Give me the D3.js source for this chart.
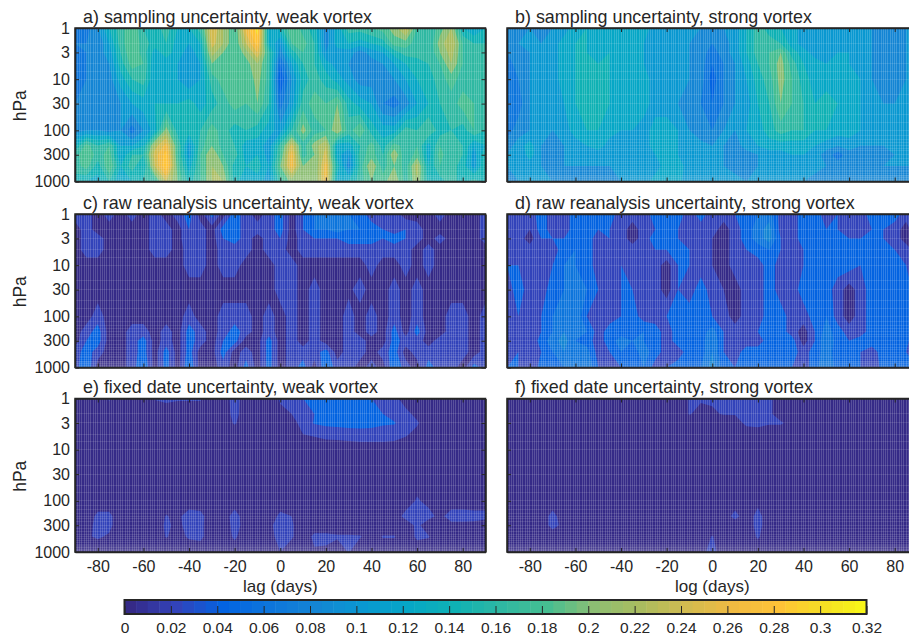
<!DOCTYPE html>
<html>
<head>
<meta charset="utf-8">
<script src="https://cdn.jsdelivr.net/npm/d3@7"></script>
<style>
  html, body { margin: 0; padding: 0; background: #fff; overflow: hidden; }
  svg { display: block; }
  text { font-family: "Liberation Sans", Arial, sans-serif; fill: #262626; }
</style>
</head>
<body>
<script>
// lag (days) of each column, pressure (hPa) of each row
const lags = [-90,-85,-80,-75,-70,-65,-60,-55,-50,-45,-40,-35,-30,-25,-20,-15,-10,-5,0,5,10,15,20,25,30,35,40,45,50,55,60,65,70,75,80,85,90];
const levels = [1,2,3,5,10,30,100,200,300,500,1000];

// values in hundredths
const samplingWeak = [
  [7,7,10,14,17,20,16,15,17,14,14,17,26,22,18,27,31,13,15,20,17,15,9,13,17,17,18,19,21,25,18,16,19,22,14,12,14],
  [8,8,8,12,17,20,17,15,16,13,12,14,25,22,18,24,29,14,10,18,19,16,9,13,14,13,14,15,19,19,17,16,21,24,18,16,16],
  [7,8,9,11,16,20,17,13,15,13,11,13,23,20,18,21,26,17,9,15,18,16,10,11,11,9,11,12,15,17,17,16,20,23,18,16,16],
  [7,8,9,10,15,19,18,12,13,12,10,12,20,19,18,19,22,17,6,12,16,16,13,11,10,8,9,10,12,14,15,16,18,22,18,17,17],
  [7,8,9,9,13,16,17,12,12,12,10,12,17,19,19,18,21,17,4,10,15,17,15,13,11,9,9,9,10,12,14,15,17,19,17,17,17],
  [8,8,8,9,10,12,13,14,14,14,15,13,15,17,19,18,20,16,7,11,17,19,18,20,15,13,12,8,7,9,12,14,16,17,19,18,17],
  [9,10,10,9,10,7,10,13,21,15,15,16,19,17,15,16,15,13,11,16,21,17,18,22,17,20,15,13,13,17,16,18,15,16,15,18,16],
  [14,19,16,18,12,12,14,23,27,18,11,17,20,17,16,13,13,11,17,25,17,21,24,13,13,16,19,15,19,17,18,13,18,17,16,12,14],
  [17,20,17,19,12,16,16,25,29,18,11,18,22,18,17,13,14,11,18,27,17,20,25,13,10,17,19,16,22,16,19,13,19,16,16,11,16],
  [17,19,15,20,14,17,14,24,30,19,13,18,22,20,15,14,15,12,20,27,20,20,27,15,9,17,22,17,20,17,23,14,18,17,15,11,16],
  [15,14,13,16,12,14,16,17,24,20,15,18,22,22,15,12,13,11,17,21,20,20,27,13,14,17,20,19,22,17,22,15,15,17,15,17,15]
];
const samplingStrong = [
  [9,9,10,9,10,11,13,14,13,14,13,13,13,11,10,10,10,10,9,10,11,14,17,15,14,13,11,10,10,11,11,11,10,9,9,10,10],
  [9,10,10,10,11,13,14,14,13,14,13,13,12,11,10,10,10,9,8,9,11,14,17,17,16,13,11,10,11,11,11,11,10,8,8,10,10],
  [8,9,10,10,11,13,14,14,13,14,13,14,12,11,10,10,10,9,7,9,11,14,17,18,20,15,13,11,11,12,12,11,10,8,8,10,10],
  [7,9,10,10,11,13,14,14,14,14,13,14,12,11,10,10,10,9,6,8,10,13,16,18,21,17,14,13,12,12,12,11,10,8,9,10,10],
  [6,8,10,10,11,13,14,14,14,14,13,14,13,11,10,10,10,9,5,8,10,12,15,17,21,18,15,13,13,12,13,12,10,9,9,10,10],
  [7,7,10,10,11,12,14,14,14,14,13,14,13,11,10,10,9,8,6,8,10,11,14,16,20,18,16,14,15,14,13,12,11,10,10,10,10],
  [7,9,10,10,10,11,13,14,14,13,12,12,11,13,14,12,10,8,8,10,10,12,13,15,17,16,16,14,14,13,13,12,11,10,10,10,10],
  [9,11,13,10,9,10,11,12,13,11,11,11,11,13,13,12,10,11,10,10,9,11,12,13,13,13,13,12,11,10,11,10,10,10,10,10,10],
  [10,10,13,10,9,10,10,11,11,11,10,10,10,12,13,12,10,10,10,10,9,9,10,11,11,12,12,11,9,7,9,9,8,9,10,10,10],
  [10,10,11,10,9,10,10,10,10,10,10,10,10,11,13,13,11,10,10,10,9,9,10,11,10,11,11,11,10,9,10,10,9,10,10,10,10],
  [9,10,10,10,10,9,9,9,8,9,10,10,11,13,13,13,10,10,10,10,11,10,10,10,11,10,10,9,9,9,9,9,9,9,9,9,9]
];
const rawWeak = [
  [3,3,1,3,1,3,1,3,1,3,5,1,5,1,5,3,1,3,5,1,4,6,7,7,6,5,3,3,3,1,1,1,3,1,1,1,3],
  [1,3,1,1,1,1,1,3,3,1,4,3,1,5,5,3,3,3,5,1,4,6,6,7,6,6,5,4,3,4,3,1,1,1,1,1,3],
  [1,3,3,1,1,1,1,3,3,1,4,3,1,4,5,3,1,3,4,1,3,4,4,4,5,5,5,4,5,4,3,1,3,1,1,1,3],
  [1,3,3,1,1,1,1,3,3,1,3,3,1,3,3,3,1,3,3,1,3,3,3,3,3,3,3,3,3,3,1,3,1,1,1,1,1],
  [1,1,1,1,1,1,1,1,1,1,3,3,1,3,3,1,1,1,3,3,1,1,1,1,1,1,3,1,1,3,1,3,1,1,1,1,1],
  [1,1,1,1,1,1,1,1,1,1,1,1,1,1,1,1,1,1,3,3,1,3,1,1,1.5,3,1,1,3,1,3,1,1,1,1,1,1],
  [1,1,3,1,1,1,1,1,1,1,3,1,1,3,3,3,1,3,1,3,1,3,1,1,3,1,3,1,3,1,3,1,1,3,3,1,3],
  [1,3,5,1,1,3,3,1,3,1,5,3,1,3,5,3,1,3,1,3,1,3,1,1,3,1,3,1,5,1,5,1,1,3,3,1,3],
  [1,4,5,1,1,3,5,1,3,1,5,3,1,4,5,1,1,5,1,3,1,3,1,1,3,3,1,1,5,3,3,1,3,3,3,1,3],
  [3,5,3,1,1,3,5,1,5,1,5,1,1,5,1,3,1,5,1,3,3,3,5,1,3,3,1,3,5,1,3,3,3,3,3,1,3],
  [3,6,1,1,1,3,6,1,5,1,6,1,1,3,1,5,1,5,1,3,5,1,6,3,3,1,3,1,6,3,1,5,3,3,1,5,3]
];
const rawStrong = [
  [3,3,3,5,3,3,5,6,5,5,3,3,3,5,5,5,3,5,3,3,4,5,6,7,3,3,5,5,3,4,3,3,5,5,5,3,5],
  [3,3,2,5,3,3,5,5,4,4,3,1,3,4,4,4,3,3,3,1,3,5,7,9,3,3,5,5,4,4,3,3,4,4,3,1,4],
  [3,3,1,4,4,4,5,5,3,4,3,1,3,5,4,4,3,3,2,1,3,5,7,9,4,3,5,5,4,4,4,4,4,4,3,1,3],
  [3,3,3,3,3,5,6,5,3,3,3,3,3,4,4,4,4,3,2,1,3,4,5,6,4,3,4,5,5,5,5,4,4,4,4,3,1],
  [4,4,3,3,4,6,6,5,3,3,4,3,3,3,1,4,4,3,2,1,3,3,3,5,3,3,4,5,5,5,5,4,4,4,5,4,2],
  [3,5,3,3,5,6,8,6,4,3,4,4,3,3,1,4,3,5,3,2,1,3,3,5,3,3,5,5,5,3,1,3,5,5,5,5,3],
  [2,4,3,4,6,7,8,4,3,3,4,5,3,3,4,4,5,6,4,3,1,3,3,5,5,3,3,5,6,3,1,3,5,5,5,5,5],
  [3,4,2,4,6,8,7,6,3,5,5,5,6,5,3,5,5,5,7,4,3,3,4,5,5,3,1,4,7,5,3,3,5,5,5,5,1],
  [3,4,2,5,7,9,6,5,3,5,7,6,6,5,3,5,5,5,8,4,3,3,3,5,6,5,1,4,8,5,4,5,5,5,4,5,1],
  [3,4,3,4,6,8,6,7,3,4,6,5,7,5,3,3,5,5,8,4,3,5,5,5,5,5,3,5,7,5,5,4,3,5,5,4,3],
  [4,4,2,5,5,6,7,8,4,3,4,5,6,3,4,5,6,6,9,5,4,5,4,5,5,4,3,5,8,5,4,4,2,5,4,5,4]
];
const fixedWeak = [
  [1,1,1,2.2,1,1,1,2.1,2.4,2.2,2.2,2.2,1,1,2.8,1,1,1,2.2,3,4,5,5.4,5.4,5.2,4.6,4,3,2.5,1.2,1,1,1,1,1,1,1],
  [1,1,1,1,1,1,1,1,1,1,1,1,1,1,2.6,1,1,1,1.6,2,3,4,4.6,5,5,5,4.6,4,3,2.5,1.5,1,1,1,1,1,1],
  [1,1,1,1,1,1,1,1,1,1,1,1,1,1,2.2,1,1,1,1,1.5,2.5,4.2,4.6,4.8,5,5,4.8,4.3,4.2,2.6,2.2,1,1,1,1,1,1],
  [1,1,1,1,1,1,1,1,1,1,1,1,1,1,1,1,1,1,1,1,2,2.2,2.5,2.6,2.8,3,3,3,2.8,2.2,1.5,1,1,1,1,1,1],
  [1,1,1,1,1,1,1,1,1,1,1,1,1,1,1,1,1,1,1,1,1,1,1,1,1,1,1,1,1,1,1,1,1,1,1,1,1],
  [1,1,1,1,1,1,1,1,1,1,1,1,1,1,1,1,1,1,1,1,1,1,1,1,1,1,1,1,1,1,1,1,1,1,1,1,1],
  [1,1,1,1,1,1,1,1,1,1,1,1,1,1,1,1,1,1,1,1,1,1,1,1,1,1,1,1,1,1,2.2,1.5,1,1,1,1,1],
  [1,1,2.4,2.4,1,1,1,1,2.1,1.6,2.8,2.5,1,1,2.8,1,1,1,2.4,2,1,1,1,1,1,1,1,1,1,2.6,3,2.6,1.5,2.8,2.8,2.6,2.6],
  [1,1.5,2.4,2.4,1,1,1,1,2.3,1.6,2.6,2.4,1,1,2.6,1.4,1,1,3.8,2.2,1,1,1,1,1,1,1,1,1,1,2.4,1,1,1.5,1.5,1.5,1],
  [1,1.8,2.2,1.8,1,1,1,1,2.1,1.5,2.2,2.4,1,1,2.3,1,1,1,3,2.2,1,2.4,2.4,2.2,2.2,2.1,1.4,2.1,2.1,1,2.3,2.1,1,1,1,1,1],
  [1,1,1,1,1,1,1,1,1,1,1,1,1,1,1,1,1,1,2,1,1,1.8,1.7,1,2.1,1,1,1,1,1,1,1,1,1,1,1,1]
];
const fixedStrong = [
  [1,1,1,1,1,1,1,1,1,1,1,1,1,1,1,1,2.1,2.2,2.2,2.2,2.3,2.3,2.3,2.2,1.5,1,1.5,2.1,1,1,1,1,1,1,1,1,1],
  [1,1,1,1,1,1,1,1,1,1,1,1,1,1,1,1,2.1,1.5,1.8,2.1,2.1,2.1,2.2,2.3,1.2,1,1,1,1,1,1,1,1,1,1,1,1],
  [1,1,1,1,1,1,1,1,1,1,1,1,1,1,1,1,1,1,1,1,1.2,2.4,2.3,2.2,2.2,1.5,1,1,1,1,1,1,1,1,1,1,1],
  [1,1,1,1,1,1,1,1,1,1,1,1,1,1,1,1,1,1,1,1,1,1,1.5,1,1,1,1,1,1,1,1,1,1,1,1,1,1],
  [1,1,1,1,1,1,1,1,1,1,1,1,1,1,1,1,1,1,1,1,1,1,1,1,1,1,1,1,1,1,1,1,1,1,1,1,1],
  [1,1,1,1,1,1,1,1,1,1,1,1,1,1,1,1,1,1,1,1,1,1,1,1,1,1,1,1,1,1,1,1,1,1,1,1,1],
  [1,1,1,1,1,1,1,1,1,1,1,1,1,1,1,1,1,1,1,1,1,1,1.5,1,1,1,1,1,1,1,1,1,1,1,1,1,1],
  [1,1,1,1,2.6,1,1,1,1,1,1,1,1,1,1,1,1,1,1,1,2.6,1,2.6,1,1,1,1,1,1,1,1,1,1,1,1,1,1],
  [1,1,1,1,2.6,1.5,1,1,1,1,1,1,1,1,1,1,1,1,1,1,1,1,2.6,1,1,1,1,1,1,1,1,1,1,1,1,1,1],
  [1,1,1,1,1,1,1,1,1,1,1,1,1,1,1,1,1,1,2.1,1,1,1,2.2,1,1,1,1,1,1,1,1,1,1,1,1,1,1],
  [1,1,1,1,1,1,1,1,1,1,1,1,1,1,1,1,1,1.5,2.6,1,1,1,1,1,1,1,1,1,1,1,1,1,1,1,1,1,1]
];

const titles = [
  "a) sampling uncertainty, weak vortex", "b) sampling uncertainty, strong vortex",
  "c) raw reanalysis uncertainty, weak vortex", "d) raw reanalysis uncertainty, strong vortex",
  "e) fixed date uncertainty, weak vortex", "f) fixed date uncertainty, strong vortex"
];
const xLabels = ["lag (days)", "log (days)"];
const xTicks = [-80,-60,-40,-20,0,20,40,60,80];
const yTicks = [1,3,10,30,100,300,1000];
const cbarTicks = [0,0.02,0.04,0.06,0.08,0.1,0.12,0.14,0.16,0.18,0.2,0.22,0.24,0.26,0.28,0.3,0.32];
const contourLevels = [2,4,6,8,10,12,14,16,18,20,22,24,26,28,30];
// levels the fields were stored on, they show up as faint seams in the fill
const seamLevels = [1,2,3,5,7,10,20,30,50,70,100,125,150,175,200,225,250,300,350,400,450,500,550,600,650,700,750,775,800,825,850,875,900,925,950,975,1000];
const seamDays = d3.range(-90, 91);

const parulaStops = ["#352a87","#3243ba","#0363e1","#0d75dc","#1485d4","#0998d1","#06a7c6","#0fb1b4","#2fb8a2","#46be91","#8cbe73","#aabc5f","#d2bb50","#f0ba41","#fec337","#f5e123","#f9fb15"];
const color = d3.scaleLinear()
  .domain(d3.range(parulaStops.length).map(i => i * 0.32 / (parulaStops.length - 1)))
  .range(parulaStops);

const panelW = 410.5, panelH = 153.5;
const lefts = [75, 507], tops = [28, 214, 398.5];

const svg = d3.select("body").append("svg").attr("width", 909).attr("height", 639);
const defs = svg.append("defs");

const panels = [samplingWeak, samplingStrong, rawWeak, rawStrong, fixedWeak, fixedStrong];

panels.forEach((grid, p) => {
  const col = p % 2, row = Math.floor(p / 2);
  const g = svg.append("g").attr("transform", `translate(${lefts[col]},${tops[row]})`);
  const x = d3.scaleLinear().domain([-90, 90]).range([0, panelW]);
  const y = d3.scaleLog().domain([1, 1000]).range([0, panelH]);

  defs.append("clipPath").attr("id", "clip" + p)
    .append("rect").attr("width", panelW).attr("height", panelH);
  const field = g.append("g").attr("clip-path", `url(#clip${p})`);

  // grid coordinates from d3.contours -> lag / log pressure
  const nx = lags.length, ny = levels.length;
  const colToLag = d3.scaleLinear().domain(lags.map((d, i) => i + 0.5)).range(lags).clamp(true);
  const rowToLog = d3.scaleLinear().domain(levels.map((d, i) => i + 0.5)).range(levels.map(Math.log10)).clamp(true);
  const path = d3.geoPath(d3.geoTransform({
    point(cx, cy) { this.stream.point(x(colToLag(cx)), y(Math.pow(10, rowToLog(cy)))); }
  }));

  field.append("rect").attr("width", panelW).attr("height", panelH).attr("fill", color(0));

  const contours = d3.contours().size([nx, ny]).thresholds(contourLevels)(grid.flat());
  field.selectAll("path.band").data(contours).join("path")
    .attr("class", "band")
    .attr("d", path)
    .attr("fill", d => color(d.value / 100));

  // fine light stripes, the fill of the original is broken up by them
  field.selectAll("line.day").data(seamDays).join("line")
    .attr("class", "day")
    .attr("x1", d => x(d)).attr("x2", d => x(d))
    .attr("y1", 0).attr("y2", panelH)
    .attr("stroke", "#fff").attr("stroke-opacity", 0.18).attr("stroke-width", 1)
    .attr("shape-rendering", "crispEdges");
  field.selectAll("line.lev").data(seamLevels).join("line")
    .attr("class", "lev")
    .attr("x1", 0).attr("x2", panelW)
    .attr("y1", d => y(d)).attr("y2", d => y(d))
    .attr("stroke", "#fff").attr("stroke-opacity", 0.11).attr("stroke-width", 1)
    .attr("shape-rendering", "crispEdges");

  // axes, ticks point inward on all four sides
  const plain = d => String(d);
  g.append("g").attr("transform", `translate(0,${panelH})`)
    .call(d3.axisBottom(x).tickValues(xTicks).tickFormat(row === 2 ? plain : "").tickSizeInner(-4).tickSizeOuter(0).tickPadding(8.5));
  g.append("g").call(d3.axisTop(x).tickValues(xTicks).tickFormat("").tickSizeInner(-4).tickSizeOuter(0));
  g.append("g")
    .call(d3.axisLeft(y).tickValues(yTicks).tickFormat(col === 0 ? plain : "").tickSizeInner(-4).tickSizeOuter(0).tickPadding(5));
  g.append("g").attr("transform", `translate(${panelW},0)`)
    .call(d3.axisRight(y).tickValues(yTicks).tickFormat("").tickSizeInner(-4).tickSizeOuter(0));
  g.selectAll(".domain").attr("stroke", "#262626").attr("stroke-width", 1.5);
  g.selectAll(".tick line").attr("stroke", "#262626").attr("stroke-width", 1);
  g.selectAll(".tick text").attr("font-size", 16).attr("font-family", null).attr("fill", "#262626");
  g.append("rect").attr("width", panelW).attr("height", panelH)
    .attr("fill", "none").attr("stroke", "#262626").attr("stroke-width", 1.5);

  g.append("text").attr("x", 8).attr("y", -5.5).attr("font-size", 17.9).text(titles[p]);
  if (col === 0) {
    g.append("text").attr("transform", `translate(-49,${panelH / 2 + 1}) rotate(-90)`)
      .attr("text-anchor", "middle").attr("font-size", 17.5).text("hPa");
  }
  if (row === 2) {
    g.append("text").attr("x", x(0)).attr("y", panelH + 39.5)
      .attr("text-anchor", "middle").attr("font-size", 17).text(xLabels[col]);
  }
});

// colour bar
const cbar = svg.append("g").attr("transform", "translate(124.5,600)");
const cx = d3.scaleLinear().domain([0, 0.32]).range([0, 742]);
const cbarH = 14;
cbar.selectAll("rect").data(d3.range(64)).join("rect")
  .attr("x", d => cx(d * 0.005)).attr("width", cx(0.005) + 0.5)
  .attr("height", cbarH)
  .attr("fill", d => color(d * 0.005));
cbar.append("g").attr("transform", `translate(0,${cbarH})`)
  .call(d3.axisBottom(cx).tickValues(cbarTicks).tickFormat(String).tickSizeInner(-8).tickSizeOuter(0).tickPadding(8))
  .call(a => a.selectAll(".tick line").attr("stroke", "#262626").attr("stroke-width", 1))
  .call(a => a.selectAll(".tick text").attr("font-size", 15.5).attr("font-family", null).attr("fill", "#262626"));
cbar.append("rect").attr("width", 742).attr("height", cbarH)
  .attr("fill", "none").attr("stroke", "#262626").attr("stroke-width", 2);
</script>
</body>
</html>
